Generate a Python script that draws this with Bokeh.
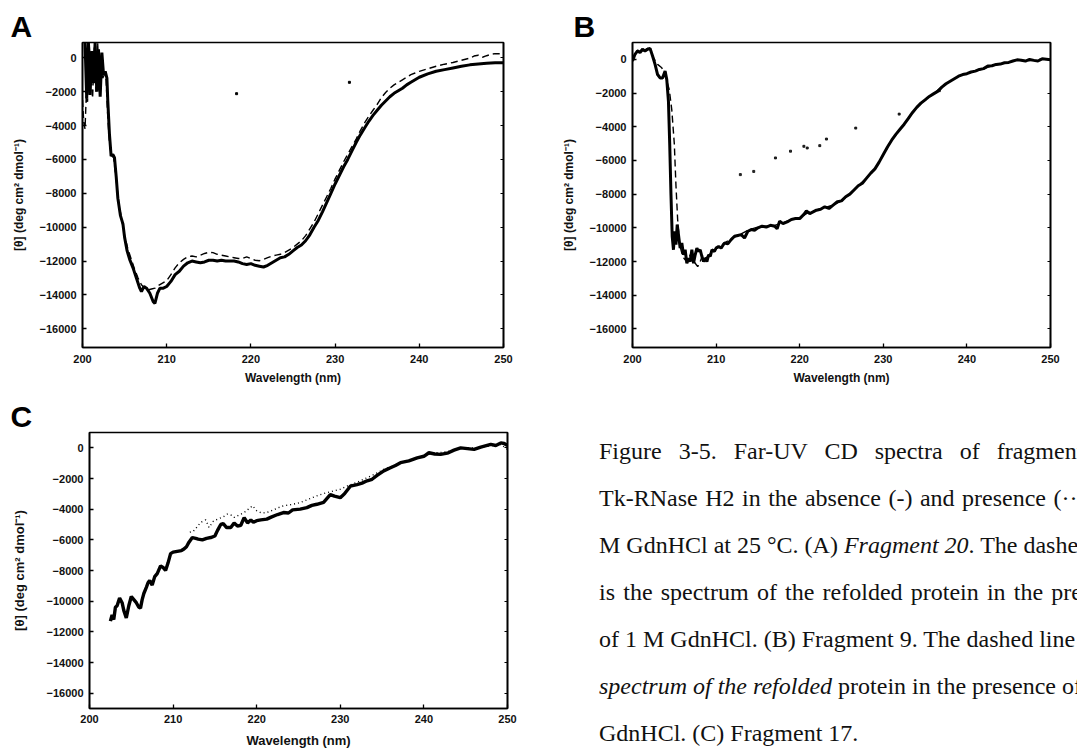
from bokeh.plotting import figure
from bokeh.models import LinearAxis, FixedTicker, Range1d, Div
from bokeh.layouts import row, column
from bokeh.embed import file_html
from bokeh.resources import INLINE

# ---------------- data ----------------
x_ticks = [200, 210, 220, 230, 240, 250]
y_ticks = [0, -2000, -4000, -6000, -8000, -10000, -12000, -14000, -16000]

# Panel A (Fragment 20): solid = absence, dashed = refolded in 1 M GdnHCl
a_solid_wl = [200.3, 200.5, 200.7, 200.9, 201.1, 201.3, 201.5, 201.7, 201.9, 202.1, 202.3, 202.5,
              202.7, 202.9, 203.0, 203.2, 203.4, 203.6, 203.8, 204.0, 204.2, 204.5, 204.8, 205.0,
              205.3, 205.6, 206.0, 206.4, 206.8, 207.0, 207.3, 207.6, 208.0, 208.4, 208.6, 208.9,
              209.2, 209.6, 210.0, 210.5, 211.0, 211.5, 212.0, 212.5, 213.0, 213.5, 214.0, 214.5,
              215.0, 215.5, 216.0, 216.5, 217.0, 217.5, 218.0, 218.5, 219.0, 219.5, 220.0, 220.5,
              221.0, 221.5, 222.0, 222.5, 223.0, 223.5, 224.0, 224.5, 225.0, 225.5, 226.0, 226.5,
              227.0, 227.5, 228.0, 228.5, 229.0, 229.5, 230.0, 230.5, 231.0, 231.5, 232.0, 232.5,
              233.0, 233.5, 234.0, 234.5, 235.0, 235.5, 236.0, 236.5, 237.0, 237.5, 238.0, 238.5,
              239.0, 239.5, 240.0, 241.0, 242.0, 243.0, 244.0, 245.0, 246.0, 247.0, 248.0, 249.0, 250.0]
a_solid = [900, -2400, 900, -2200, 400, -1500, 900, -2000, 500, -2300, 300, -1000,
           -800, -1200, -2500, -4500, -5800, -5700, -5900, -7000, -8300, -9300, -9800, -10600,
           -11400, -11900, -12400, -13000, -13600, -13800, -13500, -13600, -13900, -14400, -14500, -13900,
           -13600, -13600, -13500, -13200, -12800, -12600, -12300, -12100, -12000, -12050, -12100, -12050,
           -11950, -11950, -12000, -11950, -12000, -12000, -12000, -12050, -12150, -12200, -12150, -12250,
           -12300, -12350, -12250, -12100, -11950, -11800, -11750, -11600, -11400, -11200, -11050, -10800,
           -10450, -10000, -9600, -9100, -8550, -8000, -7450, -6950, -6450, -6000, -5500, -5000,
           -4550, -4150, -3750, -3400, -3100, -2800, -2550, -2300, -2100, -1950, -1800, -1600,
           -1450, -1300, -1150, -950, -800, -700, -600, -500, -420, -370, -330, -300, -300]

a_dash_wl = [200.0, 200.15, 200.3, 200.45, 200.6, 200.8, 201.0, 201.2, 201.4, 201.6, 201.8, 202.0,
             202.2, 202.4, 202.6, 202.8, 203.0, 203.2, 203.4, 203.7, 204.0, 204.3, 204.6, 205.0,
             205.4, 205.8, 206.2, 206.6, 207.0, 207.4, 207.8, 208.2, 208.6, 209.0, 209.5, 210.0,
             210.5, 211.0, 211.5, 212.0, 212.5, 213.0, 213.5, 214.0, 214.5, 215.0, 215.5, 216.0,
             216.5, 217.0, 217.5, 218.0, 218.5, 219.0, 219.5, 220.0, 220.5, 221.0, 221.5, 222.0,
             222.5, 223.0, 223.5, 224.0, 224.5, 225.0, 225.5, 226.0, 226.5, 227.0, 227.5, 228.0,
             228.5, 229.0, 229.5, 230.0, 230.5, 231.0, 231.5, 232.0, 232.5, 233.0, 233.5, 234.0,
             234.5, 235.0, 235.5, 236.0, 236.5, 237.0, 237.5, 238.0, 238.5, 239.0, 239.5, 240.0,
             241.0, 242.0, 243.0, 244.0, 245.0, 246.0, 246.5, 247.0, 247.5, 248.0, 248.5, 249.0, 250.0]
a_dash = [-2500, -3800, -4200, -2200, -2600, 900, -1200, -2400, 600, -2000, 900, -1500,
          -500, -1200, -1000, -1300, -3500, -5000, -5700, -5900, -7200, -8500, -9400, -10500,
          -11300, -11900, -12500, -13000, -13400, -13600, -13700, -13650, -13600, -13450, -13300, -13150,
          -12800, -12400, -12100, -11900, -11750, -11700, -11750, -11650, -11550, -11480, -11500, -11600,
          -11650, -11700, -11750, -11800, -11850, -11850, -11750, -11850, -11950, -11980, -11900, -11800,
          -11700, -11650, -11600, -11500, -11350, -11200, -11000, -10800, -10500, -10100, -9700, -9200,
          -8700, -8200, -7700, -7150, -6650, -6150, -5700, -5250, -4800, -4300, -3850, -3450,
          -3100, -2750, -2350, -2050, -1800, -1600, -1450, -1300, -1150, -1000, -900, -800,
          -650, -500, -380, -280, -150, -20, 100, 150, 30, 120, 200, 240, 240]

a_stray_wl = [218.3, 231.7]
a_stray = [-2120, -1450]

# Panel B (Fragment 9)
b_solid_wl = [200.0, 200.3, 200.6, 200.9, 201.2, 201.5, 201.8, 202.1, 202.4, 202.7, 203.0, 203.3,
              203.6, 203.9, 204.1, 204.3, 204.45, 204.6, 204.75, 204.9, 205.05, 205.2, 205.35, 205.5,
              205.7, 205.9, 206.1, 206.3, 206.5, 206.7, 206.9, 207.1, 207.3, 207.5, 207.7, 207.9,
              208.1, 208.3, 208.5, 208.7, 208.9, 209.1, 209.3, 209.5, 209.8, 210.0, 210.3, 210.6,
              211.0, 211.4, 211.8, 212.2, 212.6, 213.0, 213.4, 213.8, 214.2, 214.6, 215.0, 215.5,
              216.0, 216.5, 217.0, 217.3, 217.6, 218.0, 218.5, 219.0, 219.5, 220.0, 220.5, 220.8,
              221.2, 221.6, 222.0, 222.5, 223.0, 223.5, 224.0, 224.5, 225.0, 225.5, 226.0, 226.5,
              227.0, 227.5, 228.0, 228.5, 229.0, 229.5, 230.0, 230.5, 231.0, 231.5, 232.0, 232.5,
              233.0, 233.5, 234.0, 234.5, 235.0, 235.5, 236.0, 236.5, 237.0, 237.5, 238.0, 238.5,
              239.0, 239.5, 240.0, 240.5, 241.0, 241.5, 242.0, 242.5, 243.0, 243.5, 244.0, 244.5,
              245.0, 245.5, 246.0, 246.5, 247.0, 247.5, 248.0, 248.5, 249.0, 249.5, 250.0]
b_solid = [-100, 300, 500, 400, 600, 500, 600, 650, 200, -300, -900, -1100,
           -1100, -700, -1200, -2500, -5000, -8000, -10500, -11300, -10200, -11000, -9800, -10400,
           -11200, -10900, -11600, -11300, -12100, -11800, -12000, -11300, -12100, -11600, -11200, -11400,
           -11300, -11700, -12000, -11800, -12000, -11600, -11700, -11300, -11400, -11200, -11100, -11200,
           -10900, -10950, -10700, -10500, -10450, -10400, -10600, -10200, -10100, -10150, -10000, -9900,
           -9950, -9850, -9900, -10050, -9600, -9750, -9650, -9500, -9450, -9450, -9200, -9000,
           -9150, -9050, -8950, -8900, -8750, -8850, -8650, -8450, -8400, -8150, -8000, -7750,
           -7500, -7350, -7050, -6750, -6500, -6100, -5650, -5200, -4800, -4450, -4150, -3850,
           -3500, -3150, -2850, -2600, -2400, -2200, -2050, -1900, -1650, -1450, -1300, -1150,
           -1000, -900, -850, -750, -700, -600, -550, -400, -380, -300, -280, -200,
           -180, -100, -30, -50, -100, 0, -60, -100, 30, 0, -30]

b_dash_wl = [200.0, 200.3, 200.6, 200.9, 201.2, 201.5, 201.8, 202.1, 202.5, 203.0, 203.5, 204.0,
             204.4, 204.7, 205.0, 205.2, 205.4, 205.6, 205.8, 206.0, 206.3, 206.6, 206.9, 207.2,
             207.5, 207.8, 208.1, 208.4, 208.7, 209.0, 209.5, 210.0, 211.0, 212.0, 213.0, 214.0,
             215.0, 216.0, 217.0, 218.0, 219.0, 220.0, 221.0, 222.0, 223.0, 224.0, 225.0, 226.0,
             227.0, 228.0, 229.0, 230.0, 231.0, 232.0, 233.0, 234.0, 235.0, 236.0, 237.0, 238.0,
             239.0, 240.0, 241.0, 242.0, 243.0, 244.0, 245.0, 246.0, 247.0, 248.0, 249.0, 250.0]
b_dash = [-50, 350, 550, 450, 650, 550, 650, 600, 100, -300, -500, -1100,
          -1800, -3000, -5000, -7500, -9500, -10800, -11300, -11700, -11900, -12000, -11600, -11700,
          -12100, -12300, -12000, -11600, -11800, -11700, -11400, -11250, -10900, -10600, -10350, -10100,
          -9950, -9900, -9850, -9700, -9500, -9400, -9100, -8950, -8800, -8650, -8400, -8000,
          -7500, -7050, -6500, -5650, -4800, -4150, -3500, -2850, -2400, -2050, -1650, -1300,
          -1000, -850, -700, -550, -380, -280, -180, -30, -100, -60, 30, -30]

b_stray_wl = [212.9, 214.5, 217.1, 218.9, 220.5, 220.9, 222.4, 223.2, 226.7, 231.9, 236.7]
b_stray = [-6840, -6650, -5850, -5450, -5160, -5260, -5120, -4730, -4080, -3250, -1860]

# Panel C (Fragment 17): solid = absence, dotted = presence of GdnHCl
c_solid_wl = [202.5, 202.7, 202.9, 203.1, 203.3, 203.6, 203.9, 204.1, 204.4, 204.7, 205.0, 205.3,
              205.6, 205.9, 206.1, 206.3, 206.5, 206.8, 207.0, 207.2, 207.5, 207.8, 208.1, 208.5,
              208.8, 209.1, 209.4, 209.7, 210.0, 210.5, 211.0, 211.3, 211.6, 211.9, 212.3, 212.7,
              213.0, 213.5, 214.0, 214.5, 215.0, 215.3, 215.7, 216.0, 216.4, 216.9, 217.3, 217.7,
              218.1, 218.5, 218.9, 219.3, 219.6, 220.0, 220.5, 221.2, 221.8, 222.5, 223.2, 223.8,
              224.3, 225.2, 226.0, 226.6, 227.2, 228.0, 228.8, 229.3, 230.0, 230.5, 231.2, 232.0,
              232.6, 233.2, 233.8, 234.4, 235.2, 236.0, 236.6, 237.2, 238.2, 239.2, 240.0, 240.6,
              241.3, 242.0, 242.8, 243.6, 244.4, 245.2, 246.0, 246.8, 248.0, 248.6, 249.2, 249.6, 250.0]
c_solid = [-11300, -10900, -11200, -10400, -10300, -9800, -10100, -10600, -11100, -10300, -9700, -9900,
           -10100, -10400, -10450, -9900, -9500, -9100, -8800, -8650, -8950, -8400, -8200, -7700,
           -7800, -8000, -7500, -6900, -6800, -6750, -6700, -6600, -6450, -6150, -5850, -5900,
           -5950, -6000, -5900, -5850, -5750, -5400, -5000, -4950, -5200, -5200, -4900, -5100,
           -5050, -4550, -4900, -4700, -4860, -4750, -4700, -4650, -4500, -4350, -4220, -4250,
           -4050, -4000, -3900, -3750, -3680, -3550, -3050, -3150, -3250, -3000, -2500, -2400,
           -2300, -2150, -2050, -1800, -1500, -1300, -1150, -970, -850, -650, -550, -320,
           -400, -430, -350, -150, 0, -50, -100, 50, 220, 150, 320, 280, 150]

c_dot_wl = [212.0, 212.4, 212.8, 213.3, 213.9, 214.3, 214.8, 215.3, 216.0, 216.5, 217.0, 217.3,
            218.0, 218.5, 219.0, 219.5, 220.0, 220.6, 221.2, 222.0, 222.6, 223.2, 224.2, 225.2,
            226.2, 227.2, 228.2, 229.2, 230.0, 231.0, 232.0, 233.2, 234.2, 235.2, 236.2, 237.2,
            238.2, 239.2, 240.2, 241.2, 242.2, 243.2, 244.2, 245.2, 246.2, 247.2, 248.2, 249.2, 250.0]
c_dot = [-5500, -5450, -5200, -4860, -4700, -5200, -4800, -4650, -4500, -4320, -4400, -4540,
         -4350, -4220, -4000, -3780, -4100, -4250, -4220, -4050, -3900, -3780, -3700, -3570,
         -3350, -3130, -2950, -2810, -2700, -2450, -2250, -1950, -1700, -1400, -1200, -970,
         -800, -650, -500, -320, -300, -200, -50, 0, -20, 80, 150, 220, -100]

caption_lines = [
    "Figure 3-5. Far-UV CD spectra of fragments of",
    "Tk-RNase H2 in the absence (-) and presence (\u00b7\u00b7\u00b7) of 1",
    "M GdnHCl at 25 \u00b0C. (A) <i>Fragment 20</i>. The dashed line",
    "is the spectrum of the refolded protein in the presence",
    "of 1 M GdnHCl. (B) Fragment 9. The dashed line is the",
    "<i>spectrum of the refolded</i> protein in the presence of 1 M",
    "GdnHCl. (C) Fragment 17.",
]

ylab = "[\u03b8] (deg cm\u00b2 dmol\u207b\u00b9)"
xlab = "Wavelength (nm)"
FONT = "Liberation Sans"


def make_panel(w, h, bl, br, bt, bb, yr, letter, loff, tick_size="11px", title_size="12px",
               ylab_standoff=10, xlab_standoff=5, xtick_standoff=7):
    p = figure(width=w, height=h, x_range=Range1d(200, 250), y_range=Range1d(*yr),
               output_backend="svg", toolbar_location=None,
               min_border_left=bl, min_border_right=br, min_border_top=bt, min_border_bottom=bb)
    p.xgrid.visible = False
    p.ygrid.visible = False
    p.outline_line_color = "black"
    p.outline_line_width = 1.6
    p.background_fill_color = "white"
    p.border_fill_color = "white"
    for ax, ticks in ((p.xaxis[0], x_ticks), (p.yaxis[0], y_ticks)):
        ax.ticker = FixedTicker(ticks=ticks)
        ax.minor_tick_line_color = None
        ax.major_tick_in = 4
        ax.major_tick_out = 0
        ax.major_tick_line_width = 1.3
        ax.axis_line_width = 1.6
        ax.major_label_text_font = FONT
        ax.major_label_text_font_style = "bold"
        ax.major_label_text_font_size = tick_size
        ax.major_label_text_color = "#111111"
        ax.axis_label_text_font = FONT
        ax.axis_label_text_font_style = "bold"
        ax.axis_label_text_font_size = title_size
        ax.axis_label_text_color = "#111111"
    p.xaxis[0].axis_label = xlab
    p.xaxis[0].major_label_standoff = xtick_standoff
    p.xaxis[0].axis_label_standoff = xlab_standoff
    p.yaxis[0].axis_label = ylab
    p.yaxis[0].major_label_standoff = 6
    p.yaxis[0].axis_label_standoff = ylab_standoff
    rax = LinearAxis(ticker=FixedTicker(ticks=y_ticks), major_label_text_color=None,
                     major_label_text_font_size="8px",
                     major_tick_in=3, major_tick_out=0, minor_tick_line_color=None,
                     axis_line_width=1.6, major_label_standoff=0)
    p.add_layout(rax, "right")
    p.title.text = letter
    p.title.align = "left"
    p.title.offset = loff
    p.title.standoff = 0
    p.title.text_font = FONT
    p.title.text_font_style = "bold"
    p.title.text_font_size = "30px"
    p.title.text_color = "black"
    return p


pA = make_panel(540, 390, 82, 37, 42, 43, (-17100, 900), "A", -72)
pA.line(a_dash_wl, a_dash, line_color="black", line_width=1.4, line_dash="7 4")
pA.line(a_solid_wl, a_solid, line_color="black", line_width=3)
pA.scatter(a_stray_wl, a_stray, marker="square", size=2, color="black")

pB = make_panel(537, 390, 92, 27, 42, 43, (-17100, 1000), "B", -59)
pB.line(b_dash_wl, b_dash, line_color="black", line_width=1.4, line_dash="7 4")
pB.line(b_solid_wl, b_solid, line_color="black", line_width=3)
pB.scatter(b_stray_wl, b_stray, marker="square", size=2, color="black", alpha=0.8)

pC = make_panel(540, 360, 89, 33, 42, 42, (-17000, 1000), "C", -79,
                tick_size="11px", title_size="13px", ylab_standoff=16, xlab_standoff=7, xtick_standoff=6)
pC.line(c_dot_wl, c_dot, line_color="black", line_width=1.4, line_dash="1 3")
pC.line(c_solid_wl, c_solid, line_color="black", line_width=3.4)

tops = [42, 89, 136, 183, 230, 277, 324]
spacing = [11, 1.5, 0, 2.2, 0, 0, 0]
parts = []
for txt, t, ws in zip(caption_lines, tops, spacing):
    parts.append(f'<div style="position:absolute;left:54px;top:{t}px;white-space:nowrap;'
                 f'word-spacing:{ws}px;">{txt}</div>')
html = ('<div style="position:relative;width:537px;height:360px;overflow:hidden;'
        'font-family:\'Liberation Serif\';font-size:24px;line-height:28px;color:#111;">'
        + "".join(parts) + '</div>')
cap = Div(text=html, width=537, height=360)

layout = column(row(pA, pB), row(pC, cap))
open("out.html", "w").write(file_html(layout, INLINE))
